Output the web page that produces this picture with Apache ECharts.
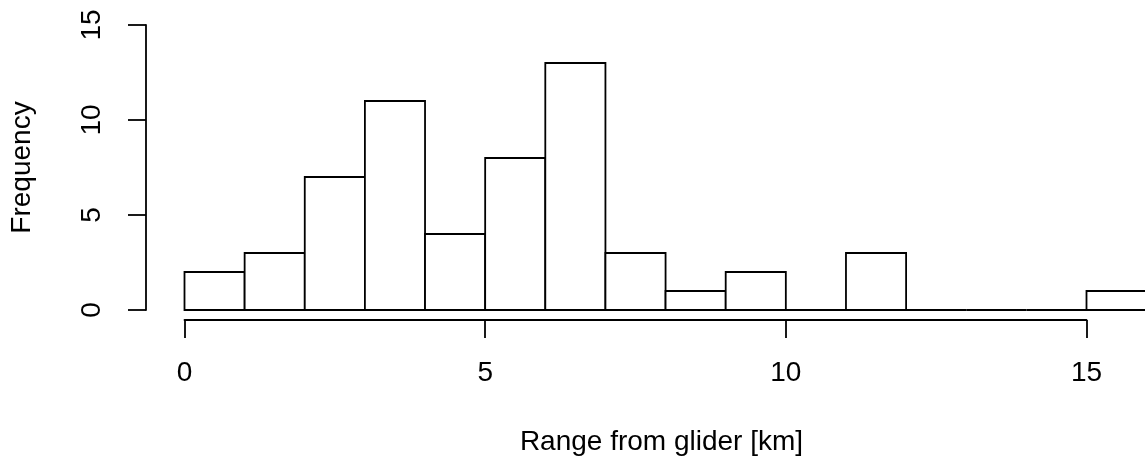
<!DOCTYPE html>
<html>
<head>
<meta charset="UTF-8">
<title>Range from glider</title>
<script src="https://cdn.jsdelivr.net/npm/echarts@6/dist/echarts.min.js"></script>
<style>
    html,body{margin:0;padding:0;background:#fff;overflow:hidden;}
    /* wider than the window: the last bin runs off the right edge like the original */
    #chart{width:1200px;height:466px;}
</style>
</head>
<body>
<div id="chart"></div>
<script>
    // histogram bins (km) and counts
    var binStart = [0, 1, 2, 3, 4, 5, 6, 7, 8, 9, 10, 11, 12, 13, 14, 15];
    var binEnd   = [1, 2, 3, 4, 5, 6, 7, 8, 9, 10, 11, 12, 13, 14, 15, 16];
    var counts   = [2, 3, 7, 11, 4, 8, 13, 3, 1, 2, 0, 3, 0, 0, 0, 1];
    var xTicks = [0, 5, 10, 15];
    var yTicks = [0, 5, 10, 15];

    var font = '"Liberation Sans", Arial, Helvetica, sans-serif';
    var lw = 1.8;
    var pxPerKm = 902 / 15;
    var data = binStart.map(function (s, i) { return [s, binEnd[i], counts[i]]; });

    var myChart = echarts.init(document.getElementById('chart'));
    var option = {
        backgroundColor: '#fff',
        animation: false,
        textStyle: {fontFamily: font},
        grid: [
            // plot area
            {left: 184.5, top: 25, width: 1000, bottom: 156},
            // axis only covers 0..15
            {left: 184.5, top: 25, width: 902, bottom: 156}
        ],
        xAxis: [
            {
                gridIndex: 0, type: 'value', min: 0, max: 1000 / pxPerKm,
                show: false
            },
            {
                gridIndex: 1, type: 'value', min: 0, max: 15, interval: 5,
                offset: 10,
                name: 'Range from glider [km]',
                nameLocation: 'middle',
                nameGap: 108,
                nameTextStyle: {fontSize: 28, color: '#000', padding: [0, 0, 0, 52]},
                axisLine: {show: true, onZero: false, lineStyle: {color: '#000', width: lw}},
                axisTick: {show: true, length: 18, lineStyle: {color: '#000', width: lw}},
                axisLabel: {
                    margin: 39, fontSize: 28, color: '#000',
                    formatter: function (v) { return xTicks.indexOf(v) >= 0 ? String(v) : ''; }
                },
                splitLine: {show: false}
            }
        ],
        yAxis: [
            {
                gridIndex: 0, type: 'value', min: 0, max: 15, interval: 5,
                offset: 38.5,
                name: 'Frequency',
                nameLocation: 'middle',
                nameRotate: 90,
                nameGap: 110,
                nameTextStyle: {fontSize: 28, color: '#000'},
                axisLine: {show: true, onZero: false, lineStyle: {color: '#000', width: lw}},
                axisTick: {show: true, length: 18, lineStyle: {color: '#000', width: lw}},
                axisLabel: {
                    margin: 40, fontSize: 28, color: '#000', rotate: 90,
                    formatter: function (v) { return yTicks.indexOf(v) >= 0 ? String(v) : ''; }
                },
                splitLine: {show: false}
            },
            {gridIndex: 1, type: 'value', min: 0, max: 15, show: false}
        ],
        series: [
            {
                type: 'custom',
                xAxisIndex: 0,
                yAxisIndex: 0,
                clip: false,
                encode: {x: [0, 1], y: 2},
                renderItem: function (params, api) {
                    var p0 = api.coord([api.value(0), 0]);
                    var p1 = api.coord([api.value(1), api.value(2)]);
                    return {
                        type: 'rect',
                        shape: {x: p0[0], y: p1[1], width: p1[0] - p0[0], height: p0[1] - p1[1]},
                        style: {fill: '#fff', stroke: '#000', lineWidth: lw}
                    };
                },
                data: data
            }
        ]
    };
    myChart.setOption(option);
</script>
</body>
</html>
